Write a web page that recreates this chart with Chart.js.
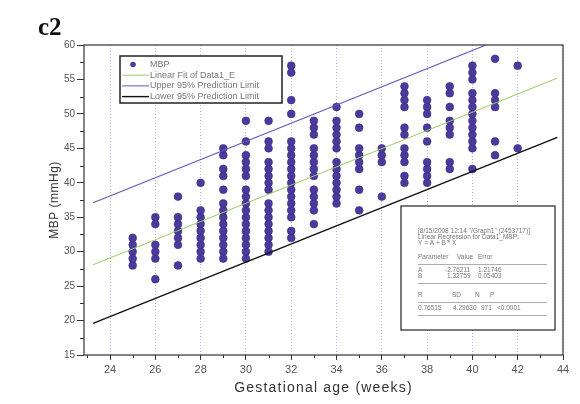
<!DOCTYPE html>
<html>
<head>
<meta charset="utf-8">
<script src="https://cdn.jsdelivr.net/npm/chart.js@4.4.1/dist/chart.umd.min.js"></script>
<style>
  html, body { margin: 0; padding: 0; background: #fff; }
</style>
</head>
<body>
<canvas id="myChart" width="580" height="404"></canvas>
<script>
// MBP readings per gestational week
let weeks = [25, 26, 27, 28, 29, 30, 31, 32, 33, 34, 35, 36, 37, 38, 39, 40, 41, 42];
let mbpValues = [
    [28, 29, 30, 31, 32],
    [26, 29, 30, 31, 34, 35],
    [28, 31, 32, 33, 34, 35, 38],
    [29, 30, 31, 32, 33, 34, 35, 36, 40],
    [29, 30, 31, 32, 33, 34, 35, 36, 37, 39, 41, 42, 44, 45],
    [29, 30, 31, 32, 33, 34, 35, 36, 37, 38, 39, 41, 42, 43, 44, 46, 49],
    [30, 31, 32, 33, 34, 35, 36, 37, 39, 40, 41, 42, 43, 45, 46, 49],
    [32, 33, 35, 36, 37, 38, 39, 40, 41, 42, 43, 44, 45, 46, 50, 52, 56, 57],
    [34, 36, 37, 38, 39, 41, 42, 43, 44, 45, 47, 48, 49],
    [37, 38, 39, 40, 41, 42, 43, 45, 46, 47, 48, 49, 51],
    [36, 39, 42, 43, 44, 45, 48, 50],
    [38, 43, 44, 45],
    [40, 41, 43, 44, 45, 47, 48, 51, 52, 53, 54],
    [40, 41, 42, 43, 46, 48, 50, 51, 52],
    [42, 43, 47, 48, 49, 51, 53, 54],
    [42, 45, 46, 47, 48, 49, 50, 51, 52, 53, 55, 56, 57],
    [44, 46, 51, 52, 53, 58],
    [45, 57]
];

// fit and prediction limits, end points
let fitLine = [{ x: 23.25, y: 28.1 }, { x: 43.75, y: 55.2 }];
let upperLimit = [{ x: 23.25, y: 37.1 }, { x: 40.6, y: 60 }];
let lowerLimit = [{ x: 23.25, y: 19.6 }, { x: 43.75, y: 46.6 }];

let xTicks = [24, 26, 28, 30, 32, 34, 36, 38, 40, 42, 44];
let yTicks = [15, 20, 25, 30, 35, 40, 45, 50, 55, 60];
let xMinor = [23, 25, 27, 29, 31, 33, 35, 37, 39, 41, 43];
let yMinor = [17.5, 22.5, 27.5, 32.5, 37.5, 42.5, 47.5, 52.5, 57.5];

let legendItems = [
    { type: 'dot', color: '#4a3a9c', text: 'MBP' },
    { type: 'line', color: '#99cc66', width: 1, text: 'Linear Fit of Data1_E' },
    { type: 'line', color: '#5a5ac0', width: 1, text: 'Upper 95% Prediction Limit' },
    { type: 'line', color: '#111', width: 1.4, text: 'Lower 95% Prediction Limit' }
];

let statsLines = [
    '[8/15/2008 12:14 "/Graph1" (2453717)]',
    'Linear Regression for Data1_MBP:',
    'Y = A + B * X'
];

let points = [];
weeks.forEach((w, i) => {
    mbpValues[i].forEach(v => points.push({ x: w, y: v }));
});

const decorPlugin = {
    id: 'decor',
    afterDraw(chart) {
        const ctx = chart.ctx;
        const area = chart.chartArea;
        const xs = chart.scales.x;
        const ys = chart.scales.y;
        ctx.save();

        // frame
        ctx.strokeStyle = '#333';
        ctx.lineWidth = 1.2;
        ctx.strokeRect(area.left, area.top, area.right - area.left, area.bottom - area.top);

        // minor ticks
        ctx.lineWidth = 1;
        ctx.beginPath();
        xMinor.forEach(v => {
            const px = Math.round(xs.getPixelForValue(v)) + 0.5;
            if (px < area.left) return;
            ctx.moveTo(px, area.bottom);
            ctx.lineTo(px, area.bottom + 3);
        });
        yMinor.forEach(v => {
            const py = Math.round(ys.getPixelForValue(v)) + 0.5;
            ctx.moveTo(area.left, py);
            ctx.lineTo(area.left - 4, py);
        });
        ctx.stroke();

        // panel label
        ctx.fillStyle = '#111';
        ctx.font = 'bold 25px "Liberation Serif", serif';
        ctx.textBaseline = 'alphabetic';
        ctx.textAlign = 'left';
        ctx.fillText('c2', 38, 35);

        // axis titles
        ctx.fillStyle = '#333';
        ctx.font = '14px "Liberation Sans", Arial, sans-serif';
        ctx.letterSpacing = '1.2px';
        ctx.textAlign = 'center';
        ctx.textBaseline = 'middle';
        ctx.fillText('Gestational age (weeks)', (area.left + area.right) / 2, 388);
        ctx.letterSpacing = '0.5px';
        ctx.font = '12px "Liberation Sans", Arial, sans-serif';
        ctx.translate(55, (area.top + area.bottom) / 2);
        ctx.rotate(-Math.PI / 2);
        ctx.fillText('MBP (mmHg)', 0, 0);
        ctx.setTransform(1, 0, 0, 1, 0, 0);
        ctx.letterSpacing = '0px';

        // legend box
        ctx.fillStyle = '#fff';
        ctx.fillRect(120, 56, 162, 47);
        ctx.strokeStyle = '#222';
        ctx.lineWidth = 1.5;
        ctx.strokeRect(120, 56, 162, 47);
        ctx.font = '9px "Liberation Sans", Arial, sans-serif';
        ctx.textAlign = 'left';
        legendItems.forEach((item, i) => {
            const y = 64.5 + i * 10.7;
            if (item.type === 'dot') {
                ctx.fillStyle = item.color;
                ctx.beginPath();
                ctx.arc(133, y, 2.8, 0, Math.PI * 2);
                ctx.fill();
            } else {
                ctx.strokeStyle = item.color;
                ctx.lineWidth = item.width;
                ctx.beginPath();
                ctx.moveTo(122, y);
                ctx.lineTo(149, y);
                ctx.stroke();
            }
            ctx.fillStyle = '#777';
            ctx.fillText(item.text, 150, y);
        });

        // regression stats box
        ctx.fillStyle = '#fff';
        ctx.fillRect(401, 206, 154, 124);
        ctx.strokeStyle = '#333';
        ctx.lineWidth = 1.3;
        ctx.strokeRect(401, 206, 154, 124);
        ctx.fillStyle = '#777';
        ctx.font = '6.5px "Liberation Sans", Arial, sans-serif';
        statsLines.forEach((t, i) => ctx.fillText(t, 418, 231 + i * 6));
        ctx.fillText('Parameter', 418, 257);
        ctx.fillText('Value', 457, 257);
        ctx.fillText('Error', 478, 257);
        ctx.fillText('A', 418, 270);
        ctx.fillText('-2.76211', 445, 270);
        ctx.fillText('1.21746', 478, 270);
        ctx.fillText('B', 418, 276.5);
        ctx.fillText('1.32759', 447, 276.5);
        ctx.fillText('0.05403', 478, 276.5);
        ctx.fillText('R', 418, 295);
        ctx.fillText('SD', 452, 295);
        ctx.fillText('N', 475, 295);
        ctx.fillText('P', 490, 295);
        ctx.fillText('0.76515', 418, 308);
        ctx.fillText('4.29630', 453, 308);
        ctx.fillText('971', 481, 308);
        ctx.fillText('<0.0001', 497, 308);
        ctx.strokeStyle = '#999';
        ctx.lineWidth = 0.8;
        ctx.beginPath();
        [264, 283, 302, 315].forEach(y => {
            ctx.moveTo(418, y + 0.5);
            ctx.lineTo(547, y + 0.5);
        });
        ctx.stroke();

        ctx.restore();
    }
};

let ctx = document.getElementById("myChart").getContext("2d");
let chartOne = new Chart(ctx, {
    type: 'scatter',
    data: {
        datasets: [
            {
                type: 'line',
                label: 'Lower 95% Prediction Limit',
                data: lowerLimit,
                borderColor: '#111',
                borderWidth: 1.4,
                pointRadius: 0,
                order: 1
            },
            {
                type: 'line',
                label: 'Upper 95% Prediction Limit',
                data: upperLimit,
                borderColor: '#5a5ac0',
                borderWidth: 1.1,
                pointRadius: 0,
                order: 1
            },
            {
                type: 'line',
                label: 'Linear Fit of Data1_E',
                data: fitLine,
                borderColor: '#99cc66',
                borderWidth: 1,
                pointRadius: 0,
                order: 1
            },
            {
                label: 'MBP',
                data: points,
                backgroundColor: '#4a3a9c',
                borderColor: '#3b2c86',
                borderWidth: 0.6,
                pointRadius: 3.9,
                order: 2
            }
        ]
    },
    options: {
        responsive: false,
        animation: false,
        layout: { padding: { left: 0, top: 45, right: 17, bottom: 0 } },
        plugins: {
            legend: { display: false },
            tooltip: { enabled: false }
        },
        scales: {
            x: {
                type: 'linear',
                min: 22.85,
                max: 44,
                afterBuildTicks: scale => { scale.ticks = xTicks.map(v => ({ value: v })); },
                afterFit: scale => { scale.height = 49; },
                ticks: {
                    color: '#555',
                    font: { family: '"Liberation Sans", Arial, sans-serif', size: 11 },
                    padding: 3,
                    maxRotation: 0
                },
                grid: {
                    color: 'rgba(130,150,225,0.7)',
                    lineWidth: 1,
                    tickColor: '#333',
                    tickLength: 5,
                    tickBorderDash: []
                },
                border: { display: false, dash: [1, 2] }
            },
            y: {
                type: 'linear',
                min: 15,
                max: 60,
                afterBuildTicks: scale => { scale.ticks = yTicks.map(v => ({ value: v })); },
                afterFit: scale => { scale.width = 84; },
                ticks: {
                    color: '#555',
                    font: { family: '"Liberation Sans", Arial, sans-serif', size: 10 },
                    padding: 2
                },
                grid: {
                    drawOnChartArea: false,
                    tickColor: '#333',
                    tickLength: 7
                },
                border: { display: false }
            }
        }
    },
    plugins: [decorPlugin]
});
</script>
</body>
</html>
